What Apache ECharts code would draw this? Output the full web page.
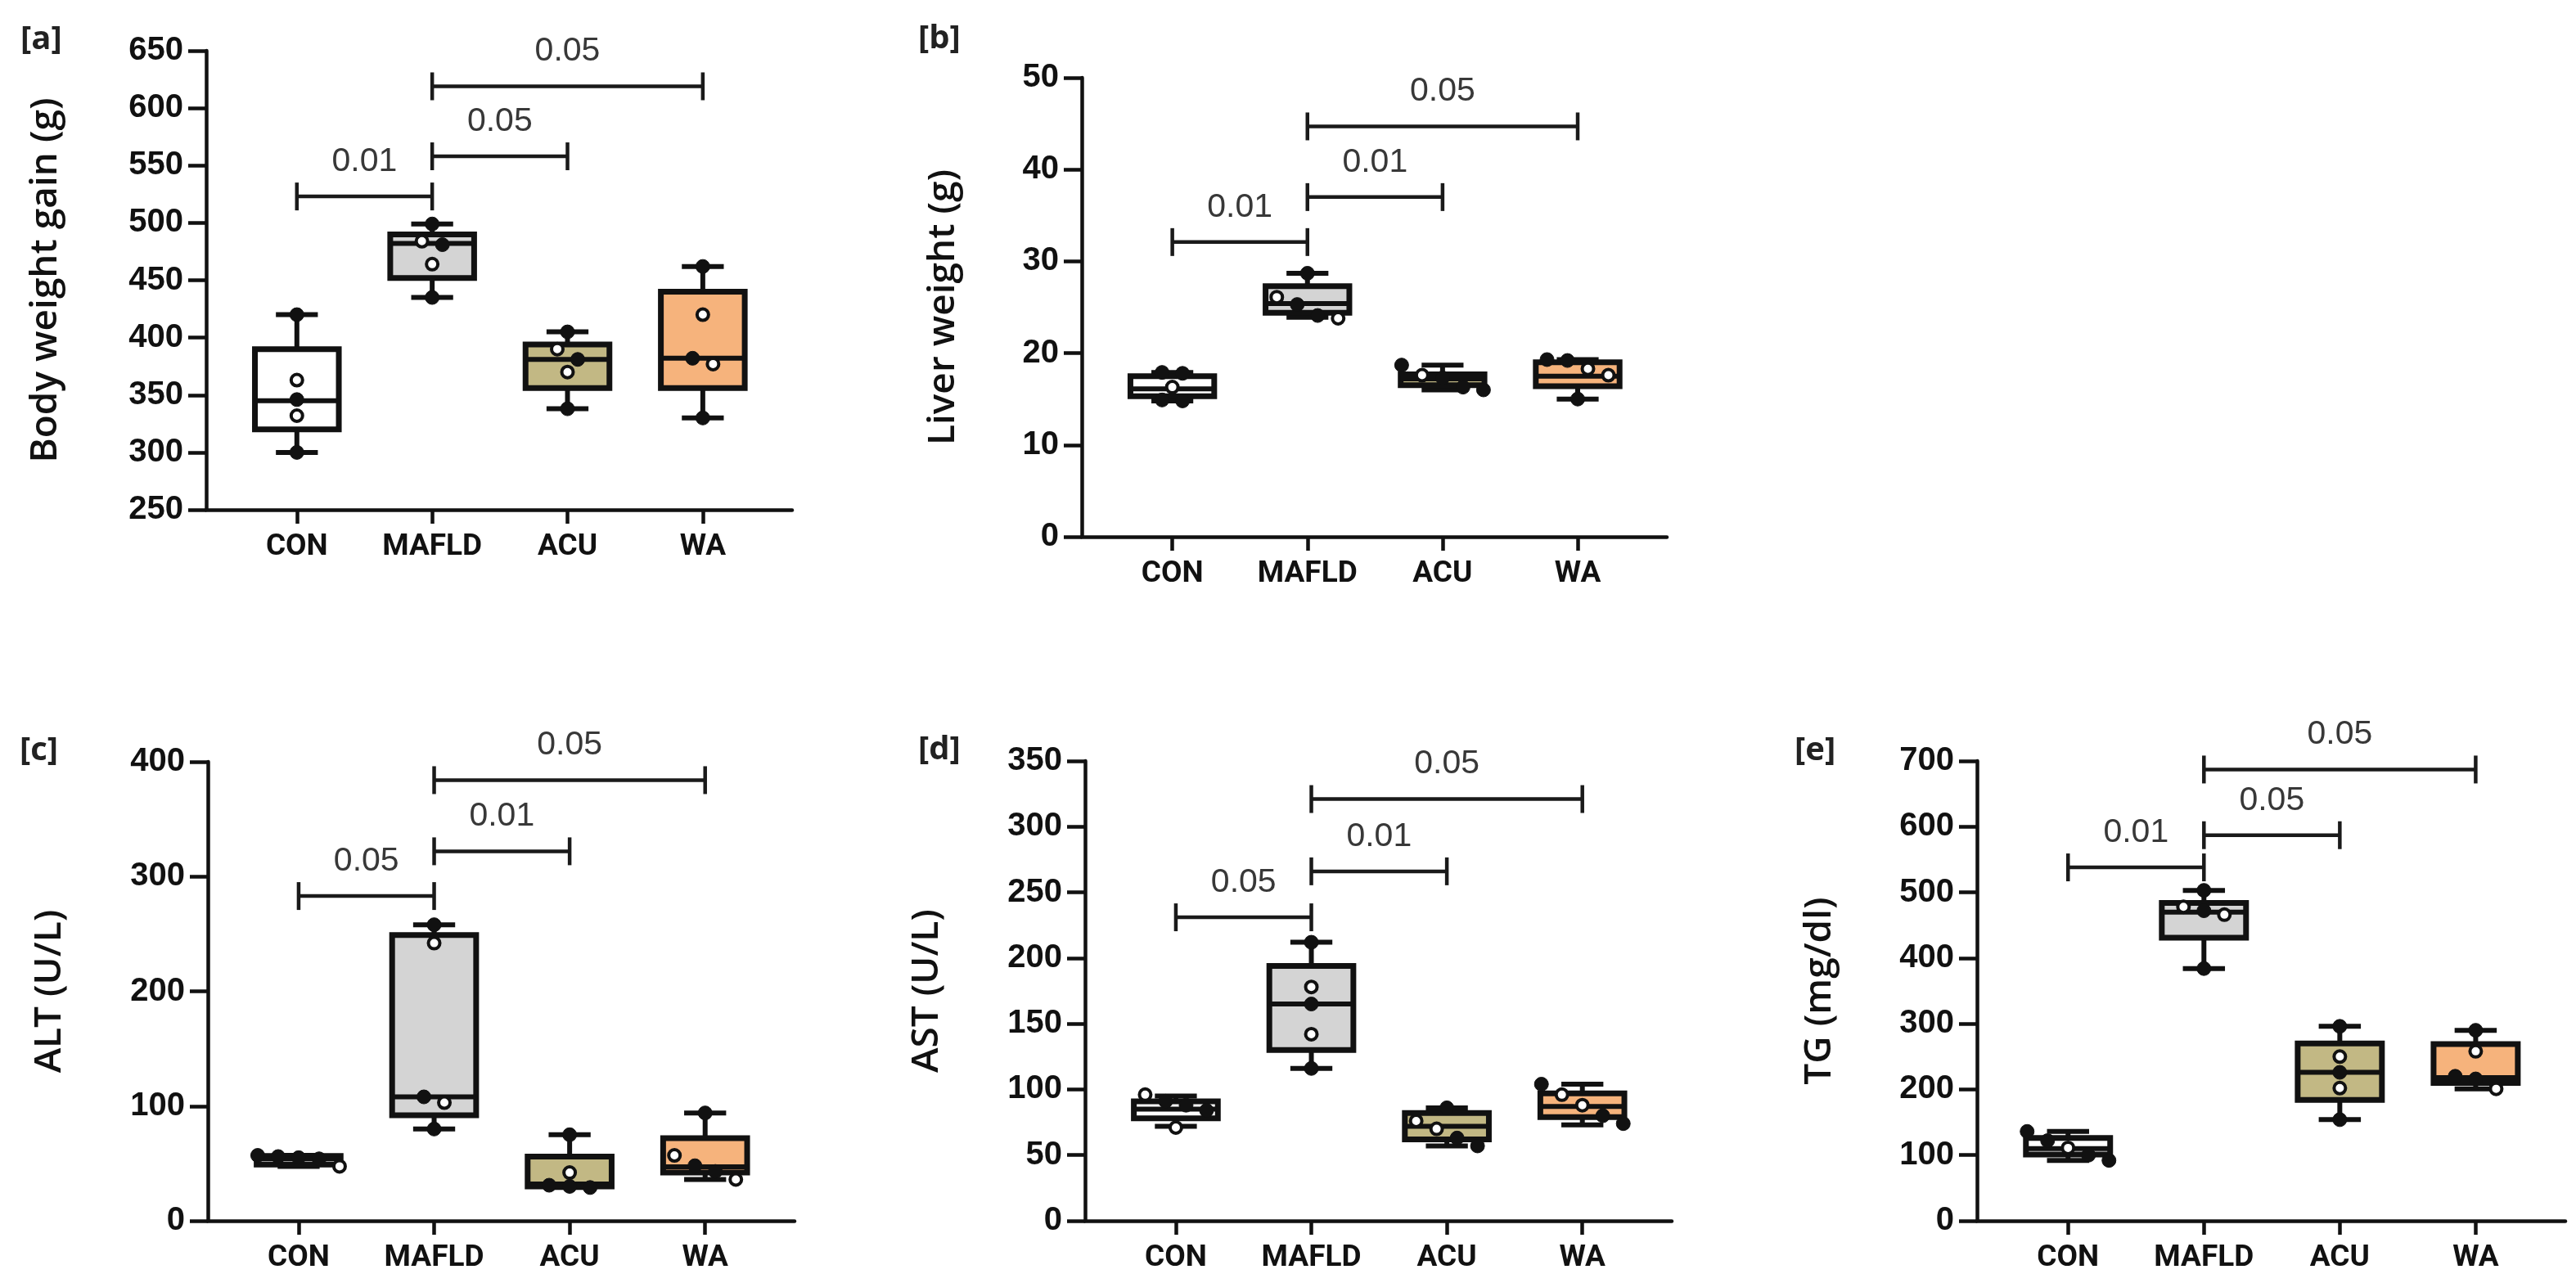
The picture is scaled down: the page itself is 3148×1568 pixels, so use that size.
<!DOCTYPE html>
<html>
<head>
<meta charset="utf-8">
<script src="https://cdn.jsdelivr.net/npm/echarts@6/dist/echarts.min.js"></script>
<style>
html,body{margin:0;padding:0;background:#fff;}
#chart{width:3148px;height:1568px;}
</style>
</head>
<body>
<div id="chart"></div>
<script>
// ---------- DATA ----------
const categories = ['CON', 'MAFLD', 'ACU', 'WA'];

// [a] Body weight gain (g): [min, Q1, median, Q3, max]
const boxA = [[300, 320, 345, 390, 420], [435, 452, 482, 490, 499], [338, 356, 381, 394, 405], [330, 356, 382, 440, 462]];
const filledA = [[420, 346, 300], [499, 481, 435], [405, 381, 338], [462, 382, 330]];
const openA = [[363, 332], [484, 464], [390, 370], [420, 377]];
const bracketsA = [[0, 1, 523], [1, 2, 558], [1, 3, 619]];
const pLabelsA = ['0.01', '0.05', '0.05'];
const ticksA = [250, 650, 50];

// [b] Liver weight (g)
const boxB = [[14.8, 15.3, 16.1, 17.5, 17.9], [23.9, 24.4, 25.4, 27.3, 28.7], [16.0, 16.5, 17.2, 17.7, 18.7], [15.0, 16.4, 17.5, 19.0, 19.3]];
const filledB = [[17.9, 17.8, 14.8, 14.9], [28.7, 25.3, 24.1], [18.7, 17.3, 16.0, 16.3], [19.3, 19.2, 15.0]];
const openB = [[16.3], [26.1, 23.8], [17.6], [17.6, 18.3]];
const bracketsB = [[0, 1, 32.1], [1, 2, 37.0], [1, 3, 44.7]];
const pLabelsB = ['0.01', '0.01', '0.05'];
const ticksB = [0, 50, 10];

// [c] ALT (U/L)
const boxC = [[47.5, 49, 54, 56.5, 57], [80, 92, 108, 249, 258], [29, 30, 32, 56, 75], [36, 42, 47, 72, 94]];
const filledC = [[57, 56, 55, 54], [258, 108, 80], [75, 31, 30, 29], [94, 48, 43]];
const openC = [[47.5], [242, 103], [42], [57, 36]];
const bracketsC = [[0, 1, 283], [1, 2, 322], [1, 3, 384]];
const pLabelsC = ['0.05', '0.01', '0.05'];
const ticksC = [0, 400, 100];

// [d] AST (U/L)
const boxD = [[72, 78, 85, 91, 95], [116, 130, 165, 194, 212], [57, 62, 72, 82, 86], [73, 79, 87, 97, 104]];
const filledD = [[91, 88, 84], [212, 165, 116], [86, 63, 57], [104, 80, 74]];
const openD = [[96, 71], [178, 142], [76, 70], [96, 88]];
const bracketsD = [[0, 1, 231], [1, 2, 266], [1, 3, 321]];
const pLabelsD = ['0.05', '0.01', '0.05'];
const ticksD = [0, 350, 50];

// [e] TG (mg/dl)
const boxE = [[92, 101, 110, 126, 136], [384, 431, 470, 484, 503], [154, 184, 226, 270, 296], [201, 210, 218, 269, 290]];
const filledE = [[136, 122, 100, 92], [503, 472, 384], [296, 226, 154], [290, 220, 216]];
const openE = [[111], [466, 478], [250, 202], [258, 201]];
const bracketsE = [[0, 1, 538], [1, 2, 587], [1, 3, 687]];
const pLabelsE = ['0.01', '0.05', '0.05'];
const ticksE = [0, 700, 100];

const yNames = ['Body weight gain (g)', 'Liver weight (g)', 'ALT (U/L)', 'AST (U/L)', 'TG (mg/dl)'];
const panelKeys = ['[a]', '[b]', '[c]', '[d]', '[e]'];

// ---------- STYLE / LAYOUT ----------
const groupColors = ['#ffffff', '#d4d4d4', '#c2b884', '#f6b37c'];
const INK = '#111111';
const tickFont = '"Liberation Sans", Arial, sans-serif';
const catFont = '"Liberation Sans Narrow", Roboto, "Liberation Sans", sans-serif';
const titleFont = '"Open Sans", "Noto Sans", sans-serif';

const layouts = [
  {grid: {left: 252, top: 62, width: 716, height: 561}, nameGap: 173, key: {left: 20, top: 24}},
  {grid: {left: 1322, top: 95, width: 715, height: 561}, nameGap: 146, key: {left: 1117, top: 23}},
  {grid: {left: 254, top: 931, width: 717, height: 561}, nameGap: 170, key: {left: 19, top: 893}},
  {grid: {left: 1326, top: 930, width: 717, height: 562}, nameGap: 170, key: {left: 1117, top: 892}},
  {grid: {left: 2416, top: 930, width: 719, height: 562}, nameGap: 169, key: {left: 2188, top: 893}}
];

const panelData = [
  {box: boxA, filled: filledA, open: openA, br: bracketsA, pl: pLabelsA, ticks: ticksA},
  {box: boxB, filled: filledB, open: openB, br: bracketsB, pl: pLabelsB, ticks: ticksB},
  {box: boxC, filled: filledC, open: openC, br: bracketsC, pl: pLabelsC, ticks: ticksC},
  {box: boxD, filled: filledD, open: openD, br: bracketsD, pl: pLabelsD, ticks: ticksD},
  {box: boxE, filled: filledE, open: openE, br: bracketsE, pl: pLabelsE, ticks: ticksE}
];

const catIdx = categories.map((c, i) => i);

function pointRows(filled, open) {
  const rows = [];
  catIdx.forEach(i => {
    filled[i].forEach(v => rows.push([i, v, 1]));
    open[i].forEach(v => rows.push([i, v, 0]));
  });
  return rows;
}

function swarmOffset(rows, dataIndex, api, spacing, thresh) {
  const idx = rows[dataIndex][0];
  const members = rows.map((r, k) => ({k: k, r: r, y: api.coord([r[0], r[1]])[1]}))
    .filter(m => m.r[0] === idx)
    .sort((a, b) => (a.y - b.y) || (a.k - b.k));
  const clusters = [];
  let cur = [];
  members.forEach(m => {
    if (cur.length && m.y - cur[cur.length - 1].y >= thresh) { clusters.push(cur); cur = []; }
    cur.push(m);
  });
  if (cur.length) clusters.push(cur);
  for (const cl of clusters) {
    const n = cl.length;
    for (let j = 0; j < n; j++) if (cl[j].k === dataIndex) return (j - (n - 1) / 2) * spacing;
  }
  return 0;
}

function boxRender(params, api) {
  const idx = api.value(0);
  const lo = api.coord([idx, api.value(1)]);
  const q1 = api.coord([idx, api.value(2)]);
  const md = api.coord([idx, api.value(3)]);
  const q3 = api.coord([idx, api.value(4)]);
  const hi = api.coord([idx, api.value(5)]);
  const unit = api.size([1, 0])[0];
  const bw = unit * 0.62, cw = unit * 0.31;
  const x = lo[0];
  const ls = {stroke: INK, lineWidth: 6};
  return {type: 'group', children: [
    {type: 'line', shape: {x1: x, y1: hi[1], x2: x, y2: q3[1]}, style: ls},
    {type: 'line', shape: {x1: x, y1: q1[1], x2: x, y2: lo[1]}, style: ls},
    {type: 'line', shape: {x1: x - cw / 2, y1: hi[1], x2: x + cw / 2, y2: hi[1]}, style: ls},
    {type: 'line', shape: {x1: x - cw / 2, y1: lo[1], x2: x + cw / 2, y2: lo[1]}, style: ls},
    {type: 'rect', shape: {x: x - bw / 2, y: q3[1], width: bw, height: q1[1] - q3[1]},
      style: {fill: groupColors[idx], stroke: INK, lineWidth: 7}},
    {type: 'line', shape: {x1: x - bw / 2, y1: md[1], x2: x + bw / 2, y2: md[1]}, style: ls}
  ]};
}

function makePointRender(rows) {
  return function (params, api) {
    const p = api.coord([api.value(0), api.value(1)]);
    const dx = swarmOffset(rows, params.dataIndex, api, 25, 15);
    const filled = api.value(2) === 1;
    return {type: 'circle', shape: {cx: p[0] + dx, cy: p[1], r: filled ? 8.5 : 7},
      style: {fill: filled ? INK : '#ffffff', stroke: INK, lineWidth: filled ? 1 : 4}};
  };
}

function makeBracketRender(labels) {
  return function (params, api) {
    const a = api.coord([api.value(0), api.value(2)]);
    const b = api.coord([api.value(1), api.value(2)]);
    const h = 17;
    const ls = {stroke: '#1a1a1a', lineWidth: 4.5};
    return {type: 'group', children: [
      {type: 'line', shape: {x1: a[0], y1: a[1], x2: b[0], y2: b[1]}, style: ls},
      {type: 'line', shape: {x1: a[0], y1: a[1] - h, x2: a[0], y2: a[1] + h}, style: ls},
      {type: 'line', shape: {x1: b[0], y1: b[1] - h, x2: b[0], y2: b[1] + h}, style: ls},
      {type: 'text', x: (a[0] + b[0]) / 2, y: a[1] - 22,
        style: {text: labels[params.dataIndex], fill: '#383838', fontSize: 41, fontFamily: tickFont,
          align: 'center', verticalAlign: 'bottom'}}
    ]};
  };
}

// ---------- OPTION ----------
const option = {
  backgroundColor: '#ffffff',
  animation: false,
  title: [], grid: [], xAxis: [], yAxis: [], series: []
};

panelData.forEach((pd, i) => {
  const L = layouts[i];
  option.title.push({text: panelKeys[i], left: L.key.left, top: L.key.top,
    textStyle: {fontSize: 40, fontWeight: 700, fontFamily: titleFont, color: '#222'}});
  option.grid.push(Object.assign({containLabel: false}, L.grid));
  option.xAxis.push({
    type: 'value', gridIndex: i, min: -0.67, max: 3.66,
    splitLine: {show: false},
    axisLine: {show: true, onZero: false, lineStyle: {color: INK, width: 4.5}},
    axisTick: {show: true, customValues: catIdx, length: 17, lineStyle: {color: INK, width: 4.5}},
    axisLabel: {show: true, customValues: catIdx, formatter: v => categories[Math.round(v)] || '',
      margin: 27, fontSize: 37, fontWeight: 'bold', fontFamily: catFont, color: INK}
  });
  option.yAxis.push({
    type: 'value', gridIndex: i, min: pd.ticks[0], max: pd.ticks[1], interval: pd.ticks[2],
    splitLine: {show: false},
    axisLine: {show: true, onZero: false, lineStyle: {color: INK, width: 4.5}},
    axisTick: {show: true, length: 22, lineStyle: {color: INK, width: 4.5}},
    axisLabel: {margin: 28, fontSize: 40, fontWeight: 'bold', fontFamily: tickFont, color: INK},
    name: yNames[i], nameLocation: 'middle', nameGap: L.nameGap, nameRotate: 90,
    nameTextStyle: {fontSize: 46, fontWeight: 600, fontFamily: titleFont, color: INK}
  });
  const rows = pointRows(pd.filled, pd.open);
  option.series.push({
    type: 'custom', xAxisIndex: i, yAxisIndex: i, z: 2, clip: false,
    renderItem: boxRender,
    data: pd.box.map((b, k) => [k].concat(b))
  });
  option.series.push({
    type: 'custom', xAxisIndex: i, yAxisIndex: i, z: 3, clip: false,
    renderItem: makePointRender(rows),
    data: rows
  });
  option.series.push({
    type: 'custom', xAxisIndex: i, yAxisIndex: i, z: 2, clip: false,
    renderItem: makeBracketRender(pd.pl),
    data: pd.br
  });
});

const chart = echarts.init(document.getElementById('chart'), null, {renderer: 'canvas'});
chart.setOption(option);
</script>
</body>
</html>
